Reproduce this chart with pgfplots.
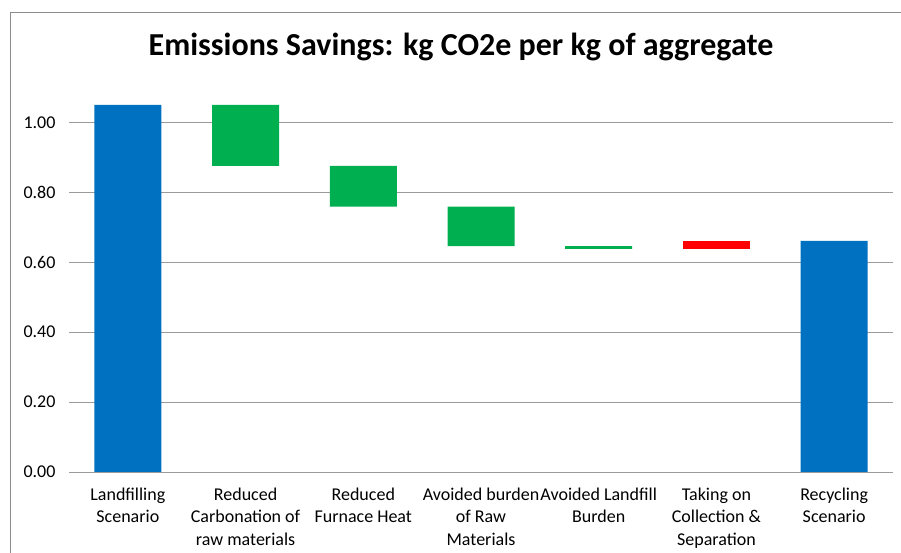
\documentclass[border=0pt]{standalone}
\usepackage{pgfplots}
\pgfplotsset{compat=1.18}
\usepackage{fontspec}
\setmainfont{Carlito}

\definecolor{xlblue}{RGB}{0,112,192}
\definecolor{xlgreen}{RGB}{0,176,80}
\definecolor{xlred}{RGB}{255,0,0}
\definecolor{gridgray}{RGB}{155,155,155}
\definecolor{framegray}{RGB}{140,140,140}

\begin{document}
\begin{tikzpicture}[x=1pt,y=1pt]
\path[use as bounding box] (0,0) rectangle (901,553);
% chart frame (cropped on the right and bottom in the reference)
\draw[framegray, line width=1pt] (10,-5) -- (10,540) -- (910,540);
\node[font=\fontsize{32}{38}\selectfont\bfseries] at (461,506)
  {Emissions Savings: kg CO2e per kg of aggregate};
\begin{axis}[
    at={(69pt,81pt)}, anchor=south west,
    scale only axis, width=824pt, height=384.5pt,
    ybar stacked, bar width=67pt,
    xmin=-0.5, xmax=6.5, ymin=0, ymax=1.1,
    axis lines*=left,
    y axis line style={draw=none},
    x axis line style={draw=gridgray, line width=0.8pt},
    major tick length=0pt,
    ymajorgrids, grid style={gridgray, line width=0.8pt},
    ytick={0,0.2,0.4,0.6,0.8,1.0},
    /pgf/number format/.cd, fixed, fixed zerofill, precision=2, assume math mode=true,
    /pgfplots/.cd,
    yticklabel style={font=\fontsize{18}{22}\selectfont, xshift=-10pt},
    xtick={0,1,2,3,4,5,6},
    xticklabels={{Landfilling\\Scenario},
                 {Reduced\\Carbonation of\\raw materials},
                 {Reduced\\Furnace Heat},
                 {Avoided burden\\of Raw\\Materials},
                 {Avoided Landfill\\Burden},
                 {Taking on\\Collection \&\\Separation},
                 {Recycling\\Scenario}},
    xticklabel style={font=\fontsize{18}{22.5}\selectfont, align=center, anchor=north, yshift=-12pt},
]
% invisible base of each floating bar
\addplot[draw=none, fill=none] coordinates {
  (0,0) (1,0.876) (2,0.759) (3,0.646) (4,0.638) (5,0.638) (6,0)
};
% totals
\addplot[draw=none, fill=xlblue] coordinates {
  (0,1.050) (1,0) (2,0) (3,0) (4,0) (5,0) (6,0.661)
};
% savings
\addplot[draw=none, fill=xlgreen] coordinates {
  (0,0) (1,0.174) (2,0.117) (3,0.113) (4,0.008) (5,0) (6,0)
};
% added emissions
\addplot[draw=none, fill=xlred] coordinates {
  (0,0) (1,0) (2,0) (3,0) (4,0) (5,0.023) (6,0)
};
\end{axis}
\end{tikzpicture}
\end{document}
